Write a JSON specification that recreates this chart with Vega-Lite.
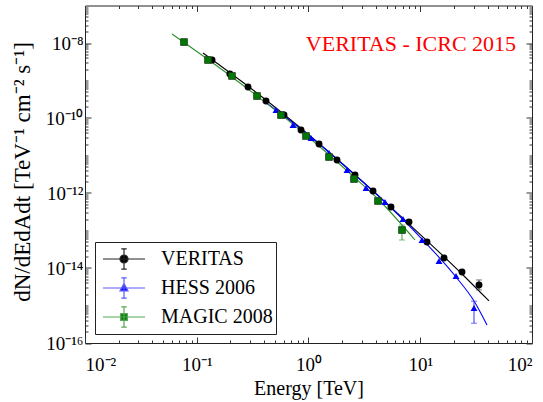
{
  "$schema": "https://vega.github.io/schema/vega-lite/v6.json",
  "width": 447,
  "height": 337.5,
  "autosize": {"type": "none"},
  "padding": {"left": 85, "top": 5.5, "right": 11, "bottom": 59},
  "background": "white",
  "config": {
    "view": {"stroke": "#222", "strokeWidth": 1},
    "font": "Liberation Serif",
    "axis": {"domain": false, "grid": false, "tickColor": "#333", "labelColor": "black", "titleColor": "black", "labelFont": "Liberation Serif", "titleFont": "Liberation Serif", "titleFontWeight": "normal"},
    "legend": {"padding": 3, "strokeColor": "#222", "fillColor": "white", "cornerRadius": 0, "symbolSize": 1764, "symbolStrokeWidth": 1.2, "symbolOpacity": 1, "labelFont": "Liberation Serif", "labelFontSize": 20, "labelColor": "black", "labelOffset": 15, "symbolOffset": 4, "clipHeight": 28, "rowPadding": 1, "labelLimit": 300}
  },
  "datasets": {
    "pts": [
      {"series": "VERITAS", "E": 0.137, "F": 3.52e-9},
      {"series": "VERITAS", "E": 0.198, "F": 1.49e-9},
      {"series": "VERITAS", "E": 0.2875, "F": 6.71e-10},
      {"series": "VERITAS", "E": 0.4166, "F": 2.84e-10},
      {"series": "VERITAS", "E": 0.6035, "F": 1.20e-10},
      {"series": "VERITAS", "E": 0.857, "F": 4.79e-11},
      {"series": "VERITAS", "E": 1.242, "F": 2.03e-11},
      {"series": "VERITAS", "E": 1.799, "F": 7.59e-12},
      {"series": "VERITAS", "E": 2.607, "F": 3.02e-12},
      {"series": "VERITAS", "E": 3.778, "F": 1.13e-12},
      {"series": "VERITAS", "E": 5.474, "F": 4.23e-13},
      {"series": "VERITAS", "E": 7.929, "F": 1.69e-13},
      {"series": "VERITAS", "E": 11.49, "F": 4.93e-14},
      {"series": "VERITAS", "E": 16.32, "F": 1.85e-14},
      {"series": "VERITAS", "E": 23.64, "F": 7.82e-15},
      {"series": "VERITAS", "E": 33.56, "F": 3.52e-15, "lo": 2.6e-15, "hi": 4.8e-15},
      {"series": "HESS 2006", "E": 0.512, "F": 1.63e-10},
      {"series": "HESS 2006", "E": 0.727, "F": 6.50e-11},
      {"series": "HESS 2006", "E": 1.053, "F": 2.93e-11},
      {"series": "HESS 2006", "E": 1.525, "F": 1.17e-11},
      {"series": "HESS 2006", "E": 2.211, "F": 4.11e-12},
      {"series": "HESS 2006", "E": 3.27, "F": 1.36e-12},
      {"series": "HESS 2006", "E": 4.837, "F": 5.75e-13},
      {"series": "HESS 2006", "E": 7.008, "F": 2.03e-13},
      {"series": "HESS 2006", "E": 10.37, "F": 5.58e-14},
      {"series": "HESS 2006", "E": 14.72, "F": 1.54e-14},
      {"series": "HESS 2006", "E": 20.89, "F": 6.12e-15},
      {"series": "HESS 2006", "E": 30.27, "F": 8.58e-16, "lo": 3.37e-16, "hi": 1.30e-15},
      {"series": "MAGIC 2008", "E": 0.0769, "F": 1.06e-8},
      {"series": "MAGIC 2008", "E": 0.1261, "F": 3.52e-9},
      {"series": "MAGIC 2008", "E": 0.2067, "F": 1.32e-9},
      {"series": "MAGIC 2008", "E": 0.3461, "F": 3.86e-10},
      {"series": "MAGIC 2008", "E": 0.5674, "F": 1.20e-10},
      {"series": "MAGIC 2008", "E": 0.9497, "F": 3.31e-11},
      {"series": "MAGIC 2008", "E": 1.525, "F": 9.12e-12},
      {"series": "MAGIC 2008", "E": 2.554, "F": 2.36e-12},
      {"series": "MAGIC 2008", "E": 4.188, "F": 6.12e-13},
      {"series": "MAGIC 2008", "E": 6.866, "F": 1.03e-13, "lo": 5.58e-14, "hi": 1.40e-13}
    ],
    "fit": [
      {"series": "VERITAS", "E": 0.1137, "F": 5.41e-9},
      {"series": "VERITAS", "E": 0.4166, "F": 3.02e-10},
      {"series": "VERITAS", "E": 1.799, "F": 8.07e-12},
      {"series": "VERITAS", "E": 7.929, "F": 1.49e-13},
      {"series": "VERITAS", "E": 23.64, "F": 6.92e-15},
      {"series": "VERITAS", "E": 41.23, "F": 1.32e-15},
      {"series": "HESS 2006", "E": 0.408, "F": 2.67e-10},
      {"series": "HESS 2006", "E": 1.053, "F": 3.11e-11},
      {"series": "HESS 2006", "E": 2.211, "F": 4.64e-12},
      {"series": "HESS 2006", "E": 4.837, "F": 5.75e-13},
      {"series": "HESS 2006", "E": 10.37, "F": 5.93e-14},
      {"series": "HESS 2006", "E": 20.89, "F": 5.75e-15},
      {"series": "HESS 2006", "E": 30.27, "F": 1.32e-15},
      {"series": "HESS 2006", "E": 39.57, "F": 3.02e-16},
      {"series": "MAGIC 2008", "E": 0.06005, "F": 1.74e-8},
      {"series": "MAGIC 2008", "E": 0.2067, "F": 1.24e-9},
      {"series": "MAGIC 2008", "E": 0.9497, "F": 3.52e-11},
      {"series": "MAGIC 2008", "E": 2.554, "F": 2.67e-12},
      {"series": "MAGIC 2008", "E": 4.188, "F": 6.92e-13},
      {"series": "MAGIC 2008", "E": 8.974, "F": 5.58e-14}
    ],
    "note": [{"label": "VERITAS - ICRC 2015", "E": 8.26, "F": 9.4e-9}]
  },
  "layer": [
    {
      "data": {"name": "fit"},
      "transform": [{"filter": "datum.series == 'VERITAS'"}],
      "mark": {"type": "line", "color": "#000000", "strokeWidth": 1.1, "interpolate": "monotone"},
      "encoding": {
        "x": {"field": "E", "type": "quantitative", "scale": {"type": "log", "domain": [0.01, 100], "nice": false},
          "axis": {"orient": "bottom", "values": [0.01, 0.1, 1, 10, 100], "tickSize": -6, "labelPadding": 18, "labelFont": "Liberation Serif", "labelFontSize": 19, "labelColor": "black",
            "labelExpr": "datum.value < 0.05 ? '10⁻²' : datum.value < 0.5 ? '10⁻¹' : datum.value < 5 ? '10⁰' : datum.value < 50 ? '10¹' : '10²'",
            "title": "Energy [TeV]", "titleFont": "Liberation Serif", "titleFontWeight": "normal", "titleFontSize": 20, "titleColor": "black", "titlePadding": 4}},
        "y": {"field": "F", "type": "quantitative", "scale": {"type": "log", "domain": [1e-16, 1e-7], "nice": false},
          "axis": {"orient": "left", "values": [1e-16, 1e-14, 1e-12, 1e-10, 1e-8], "tickSize": -6, "labelPadding": 8, "labelFont": "Liberation Serif", "labelFontSize": 19, "labelColor": "black",
            "labelExpr": "datum.value < 1e-15 ? '10⁻¹⁶' : datum.value < 1e-13 ? '10⁻¹⁴' : datum.value < 1e-11 ? '10⁻¹²' : datum.value < 1e-9 ? '10⁻¹⁰' : '10⁻⁸'",
            "title": "dN/dEdAdt  [TeV⁻¹ cm⁻² s⁻¹]", "titleFont": "Liberation Serif", "titleFontWeight": "normal", "titleFontSize": 23, "titleColor": "black", "titleX": -56, "titleY": 166, "titleAlign": "center", "titleBaseline": "alphabetic", "titleAngle": 270}}
      }
    },
    {
      "data": {"name": "fit"},
      "transform": [{"filter": "datum.series == 'HESS 2006'"}],
      "mark": {"type": "line", "color": "#0000ff", "strokeWidth": 1.1, "interpolate": "monotone"},
      "encoding": {
        "x": {"field": "E", "type": "quantitative", "scale": {"type": "log", "domain": [0.01, 100], "nice": false},
          "axis": {"orient": "bottom", "values": [0.02,0.03,0.04,0.05,0.06,0.07,0.08,0.09,0.2,0.3,0.4,0.5,0.6,0.7,0.8,0.9,2,3,4,5,6,7,8,9,20,30,40,50,60,70,80,90], "tickSize": -3, "labels": false, "title": null}},
        "y": {"field": "F", "type": "quantitative", "scale": {"type": "log", "domain": [1e-16, 1e-7], "nice": false},
          "axis": {"orient": "left", "values": [2e-16,3e-16,4e-16,5e-16,6e-16,7e-16,8e-16,9e-16,1e-15,2e-15,3e-15,4e-15,5e-15,6e-15,7e-15,8e-15,9e-15,2e-14,3e-14,4e-14,5e-14,6e-14,7e-14,8e-14,9e-14,1e-13,2e-13,3e-13,4e-13,5e-13,6e-13,7e-13,8e-13,9e-13,2e-12,3e-12,4e-12,5e-12,6e-12,7e-12,8e-12,9e-12,1e-11,2e-11,3e-11,4e-11,5e-11,6e-11,7e-11,8e-11,9e-11,2e-10,3e-10,4e-10,5e-10,6e-10,7e-10,8e-10,9e-10,1e-9,2e-9,3e-9,4e-9,5e-9,6e-9,7e-9,8e-9,9e-9,2e-8,3e-8,4e-8,5e-8,6e-8,7e-8,8e-8,9e-8], "tickSize": -3, "labels": false, "title": null}}
      }
    },
    {
      "data": {"name": "fit"},
      "transform": [{"filter": "datum.series == 'MAGIC 2008'"}],
      "mark": {"type": "line", "color": "#2a922a", "strokeWidth": 1.1, "interpolate": "monotone"},
      "encoding": {
        "x": {"field": "E", "type": "quantitative", "scale": {"type": "log", "domain": [0.01, 100], "nice": false},
          "axis": {"orient": "top", "values": [0.01, 0.1, 1, 10, 100], "tickSize": -6, "labels": false, "title": null}},
        "y": {"field": "F", "type": "quantitative", "scale": {"type": "log", "domain": [1e-16, 1e-7], "nice": false},
          "axis": {"orient": "right", "values": [1e-16, 1e-14, 1e-12, 1e-10, 1e-8], "tickSize": -6, "labels": false, "title": null}}
      }
    },
    {
      "data": {"name": "pts"},
      "transform": [{"filter": "datum.series == 'VERITAS' && isValid(datum.lo)"}],
      "mark": {"type": "errorbar", "color": "#444444", "ticks": {"size": 6, "thickness": 1}},
      "encoding": {
        "x": {"field": "E", "type": "quantitative", "scale": {"type": "log", "domain": [0.01, 100], "nice": false}, "axis": null},
        "y": {"field": "lo", "type": "quantitative", "scale": {"type": "log", "domain": [1e-16, 1e-7], "nice": false}, "axis": null},
        "y2": {"field": "hi"}
      }
    },
    {
      "data": {"name": "pts"},
      "transform": [{"filter": "datum.series == 'HESS 2006' && isValid(datum.lo)"}],
      "mark": {"type": "errorbar", "color": "#3333ff", "ticks": {"size": 6, "thickness": 1}},
      "encoding": {
        "x": {"field": "E", "type": "quantitative", "scale": {"type": "log", "domain": [0.01, 100], "nice": false}, "axis": null},
        "y": {"field": "lo", "type": "quantitative", "scale": {"type": "log", "domain": [1e-16, 1e-7], "nice": false}, "axis": null},
        "y2": {"field": "hi"}
      }
    },
    {
      "data": {"name": "pts"},
      "transform": [{"filter": "datum.series == 'MAGIC 2008' && isValid(datum.lo)"}],
      "mark": {"type": "errorbar", "color": "#44a044", "ticks": {"size": 6, "thickness": 1}},
      "encoding": {
        "x": {"field": "E", "type": "quantitative", "scale": {"type": "log", "domain": [0.01, 100], "nice": false}, "axis": null},
        "y": {"field": "lo", "type": "quantitative", "scale": {"type": "log", "domain": [1e-16, 1e-7], "nice": false}, "axis": null},
        "y2": {"field": "hi"}
      }
    },
    {
      "data": {"name": "pts"},
      "transform": [{"filter": "datum.series == 'VERITAS'"}],
      "mark": {"type": "point", "shape": "circle", "filled": true, "color": "#000000", "size": 48, "opacity": 1},
      "encoding": {
        "x": {"field": "E", "type": "quantitative", "scale": {"type": "log", "domain": [0.01, 100], "nice": false},
          "axis": {"orient": "top", "values": [0.02,0.03,0.04,0.05,0.06,0.07,0.08,0.09,0.2,0.3,0.4,0.5,0.6,0.7,0.8,0.9,2,3,4,5,6,7,8,9,20,30,40,50,60,70,80,90], "tickSize": -3, "labels": false, "title": null}},
        "y": {"field": "F", "type": "quantitative", "scale": {"type": "log", "domain": [1e-16, 1e-7], "nice": false},
          "axis": {"orient": "right", "values": [2e-16,3e-16,4e-16,5e-16,6e-16,7e-16,8e-16,9e-16,1e-15,2e-15,3e-15,4e-15,5e-15,6e-15,7e-15,8e-15,9e-15,2e-14,3e-14,4e-14,5e-14,6e-14,7e-14,8e-14,9e-14,1e-13,2e-13,3e-13,4e-13,5e-13,6e-13,7e-13,8e-13,9e-13,2e-12,3e-12,4e-12,5e-12,6e-12,7e-12,8e-12,9e-12,1e-11,2e-11,3e-11,4e-11,5e-11,6e-11,7e-11,8e-11,9e-11,2e-10,3e-10,4e-10,5e-10,6e-10,7e-10,8e-10,9e-10,1e-9,2e-9,3e-9,4e-9,5e-9,6e-9,7e-9,8e-9,9e-9,2e-8,3e-8,4e-8,5e-8,6e-8,7e-8,8e-8,9e-8], "tickSize": -3, "labels": false, "title": null}}
      }
    },
    {
      "data": {"name": "pts"},
      "transform": [{"filter": "datum.series == 'HESS 2006'"}],
      "mark": {"type": "point", "shape": "triangle-up", "filled": true, "color": "#0000ff", "size": 48, "opacity": 1},
      "encoding": {
        "x": {"field": "E", "type": "quantitative", "scale": {"type": "log", "domain": [0.01, 100], "nice": false}, "axis": null},
        "y": {"field": "F", "type": "quantitative", "scale": {"type": "log", "domain": [1e-16, 1e-7], "nice": false}, "axis": null}
      }
    },
    {
      "data": {"name": "pts"},
      "transform": [{"filter": "datum.series == 'MAGIC 2008'"}],
      "mark": {"type": "point", "shape": "square", "filled": true, "fill": "#007a00", "stroke": "#1e3a1e", "strokeWidth": 0.8, "size": 46, "opacity": 1},
      "encoding": {
        "x": {"field": "E", "type": "quantitative", "scale": {"type": "log", "domain": [0.01, 100], "nice": false}, "axis": null},
        "y": {"field": "F", "type": "quantitative", "scale": {"type": "log", "domain": [1e-16, 1e-7], "nice": false}, "axis": null}
      }
    },
    {
      "data": {"name": "pts"},
      "mark": {"type": "point", "filled": true},
      "encoding": {
        "x": {"field": "E", "type": "quantitative", "scale": {"type": "log", "domain": [0.01, 100], "nice": false}, "axis": null},
        "y": {"field": "F", "type": "quantitative", "scale": {"type": "log", "domain": [1e-16, 1e-7], "nice": false}, "axis": null},
        "opacity": {"value": 0},
        "fill": {"field": "series", "type": "nominal",
          "scale": {"domain": ["VERITAS", "HESS 2006", "MAGIC 2008"], "range": ["#000000", "#0000ff", "#007a00"]},
          "legend": {"title": null, "orient": "none", "legendX": 10, "legendY": 236.5, "labelExpr": "datum.label + '\u00a0\u00a0\u00a0\u00a0'"}},
        "stroke": {"field": "series", "type": "nominal",
          "scale": {"domain": ["VERITAS", "HESS 2006", "MAGIC 2008"], "range": ["#222222", "#5a5aff", "#55a855"]},
          "legend": {"title": null, "orient": "none", "legendX": 10, "legendY": 236.5, "labelExpr": "datum.label + '\u00a0\u00a0\u00a0\u00a0'"}},
        "shape": {"field": "series", "type": "nominal",
          "scale": {"domain": ["VERITAS", "HESS 2006", "MAGIC 2008"], "range": [
            "M-1,0H1M0,-0.48V0.48M-0.13,-0.48H0.13M-0.13,0.48H0.13M0.19,0A0.19,0.19,0,1,1,-0.19,0A0.19,0.19,0,1,1,0.19,0Z",
            "M-1,0H1M0,-0.48V0.48M-0.13,-0.48H0.13M-0.13,0.48H0.13M0,-0.21L0.19,0.14L-0.19,0.14Z",
            "M-1,0H1M0,-0.48V0.48M-0.13,-0.48H0.13M-0.13,0.48H0.13M-0.16,-0.16H0.16V0.16H-0.16Z"]},
          "legend": {"title": null, "orient": "none", "legendX": 10, "legendY": 236.5, "labelExpr": "datum.label + '\u00a0\u00a0\u00a0\u00a0'"}}
      }
    },
    {
      "data": {"name": "note"},
      "mark": {"type": "text", "color": "#ff0000", "font": "Liberation Serif", "fontSize": 22, "align": "center", "baseline": "middle"},
      "encoding": {
        "x": {"field": "E", "type": "quantitative", "scale": {"type": "log", "domain": [0.01, 100], "nice": false}, "axis": null},
        "y": {"field": "F", "type": "quantitative", "scale": {"type": "log", "domain": [1e-16, 1e-7], "nice": false}, "axis": null},
        "text": {"field": "label"}
      }
    }
  ],
  "resolve": {"axis": {"x": "independent", "y": "independent"}}
}
